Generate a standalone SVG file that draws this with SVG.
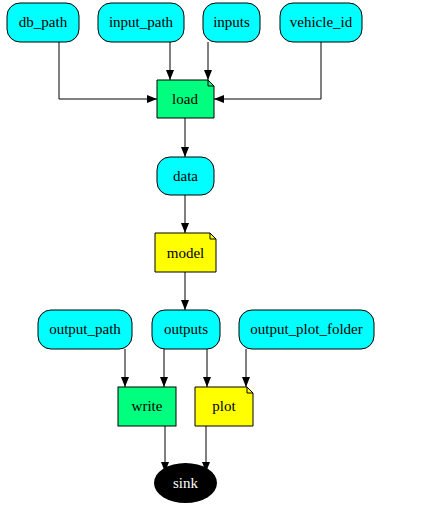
<svg xmlns="http://www.w3.org/2000/svg" width="421" height="509" viewBox="0 0 421 509">
<defs>
<marker id="arr" markerWidth="10" markerHeight="8" refX="10" refY="4" orient="auto" markerUnits="userSpaceOnUse">
<path d="M0,0 L10,4 L0,8 Z" fill="#000"/>
</marker>
<style>
.data rect{fill:#00ffff;stroke:#000;stroke-width:1}
.fn rect,.fn path.b{stroke:#000;stroke-width:1}
.g{fill:#00ff7f}
.y{fill:#ffff00}
text{font-family:"Liberation Serif","Times New Roman",serif;font-size:15px;text-anchor:middle;fill:#000}
.edges path{fill:none;stroke:#000;stroke-width:1;marker-end:url(#arr)}
.fold{fill:none;stroke:#000;stroke-width:1}
</style>
</defs>
<rect width="421" height="509" fill="#fff"/>
<g class="edges">
<path d="M59,42 V99 H157"/>
<path d="M170,42 V80"/>
<path d="M208,42 V80"/>
<path d="M321,42 V99 H214"/>
<path d="M185,118 V157"/>
<path d="M185,195 V233"/>
<path d="M185,272 V310"/>
<path d="M125,349 V387"/>
<path d="M164,349 V387"/>
<path d="M207,349 V387"/>
<path d="M246,349 V387"/>
<path d="M165,426 V472"/>
<path d="M206,426 V472"/>
</g>
<g id="db_path" class="data"><rect x="7" y="3" width="72" height="39" rx="13"/><text x="43" y="27">db_path</text></g>
<g id="input_path" class="data"><rect x="98" y="3" width="86" height="39" rx="13"/><text x="141" y="27">input_path</text></g>
<g id="inputs" class="data"><rect x="203" y="3" width="57" height="39" rx="13"/><text x="231.5" y="27">inputs</text></g>
<g id="vehicle_id" class="data"><rect x="280" y="3" width="82" height="39" rx="13"/><text x="321" y="27">vehicle_id</text></g>
<g id="load" class="fn"><path class="b g" d="M157,80 H208 L214,86 V118 H157 Z"/><path class="fold" d="M208,80 V86 H214"/><text x="185" y="104">load</text></g>
<g id="data" class="data"><rect x="157" y="157" width="57" height="38" rx="13"/><text x="185.5" y="181">data</text></g>
<g id="model" class="fn"><path class="b y" d="M155,233 H210 L216,239 V272 H155 Z"/><path class="fold" d="M210,233 V239 H216"/><text x="185.5" y="258">model</text></g>
<g id="output_path" class="data"><rect x="38" y="310" width="94" height="39" rx="13"/><text x="85" y="334">output_path</text></g>
<g id="outputs" class="data"><rect x="152" y="310" width="68" height="39" rx="13"/><text x="186" y="334">outputs</text></g>
<g id="output_plot_folder" class="data"><rect x="239" y="310" width="135" height="39" rx="13"/><text x="306.5" y="334">output_plot_folder</text></g>
<g id="write" class="fn"><rect class="g" x="118" y="387" width="58" height="39"/><text x="147" y="411">write</text></g>
<g id="plot" class="fn"><path class="b y" d="M195,387 H247 L253,393 V426 H195 Z"/><path class="fold" d="M247,387 V393 H253"/><text x="224" y="411">plot</text></g>
<g id="sink"><ellipse cx="185.5" cy="483" rx="31.5" ry="20" fill="#000"/><text x="185.5" y="488" style="fill:#fff">sink</text></g>
</svg>
